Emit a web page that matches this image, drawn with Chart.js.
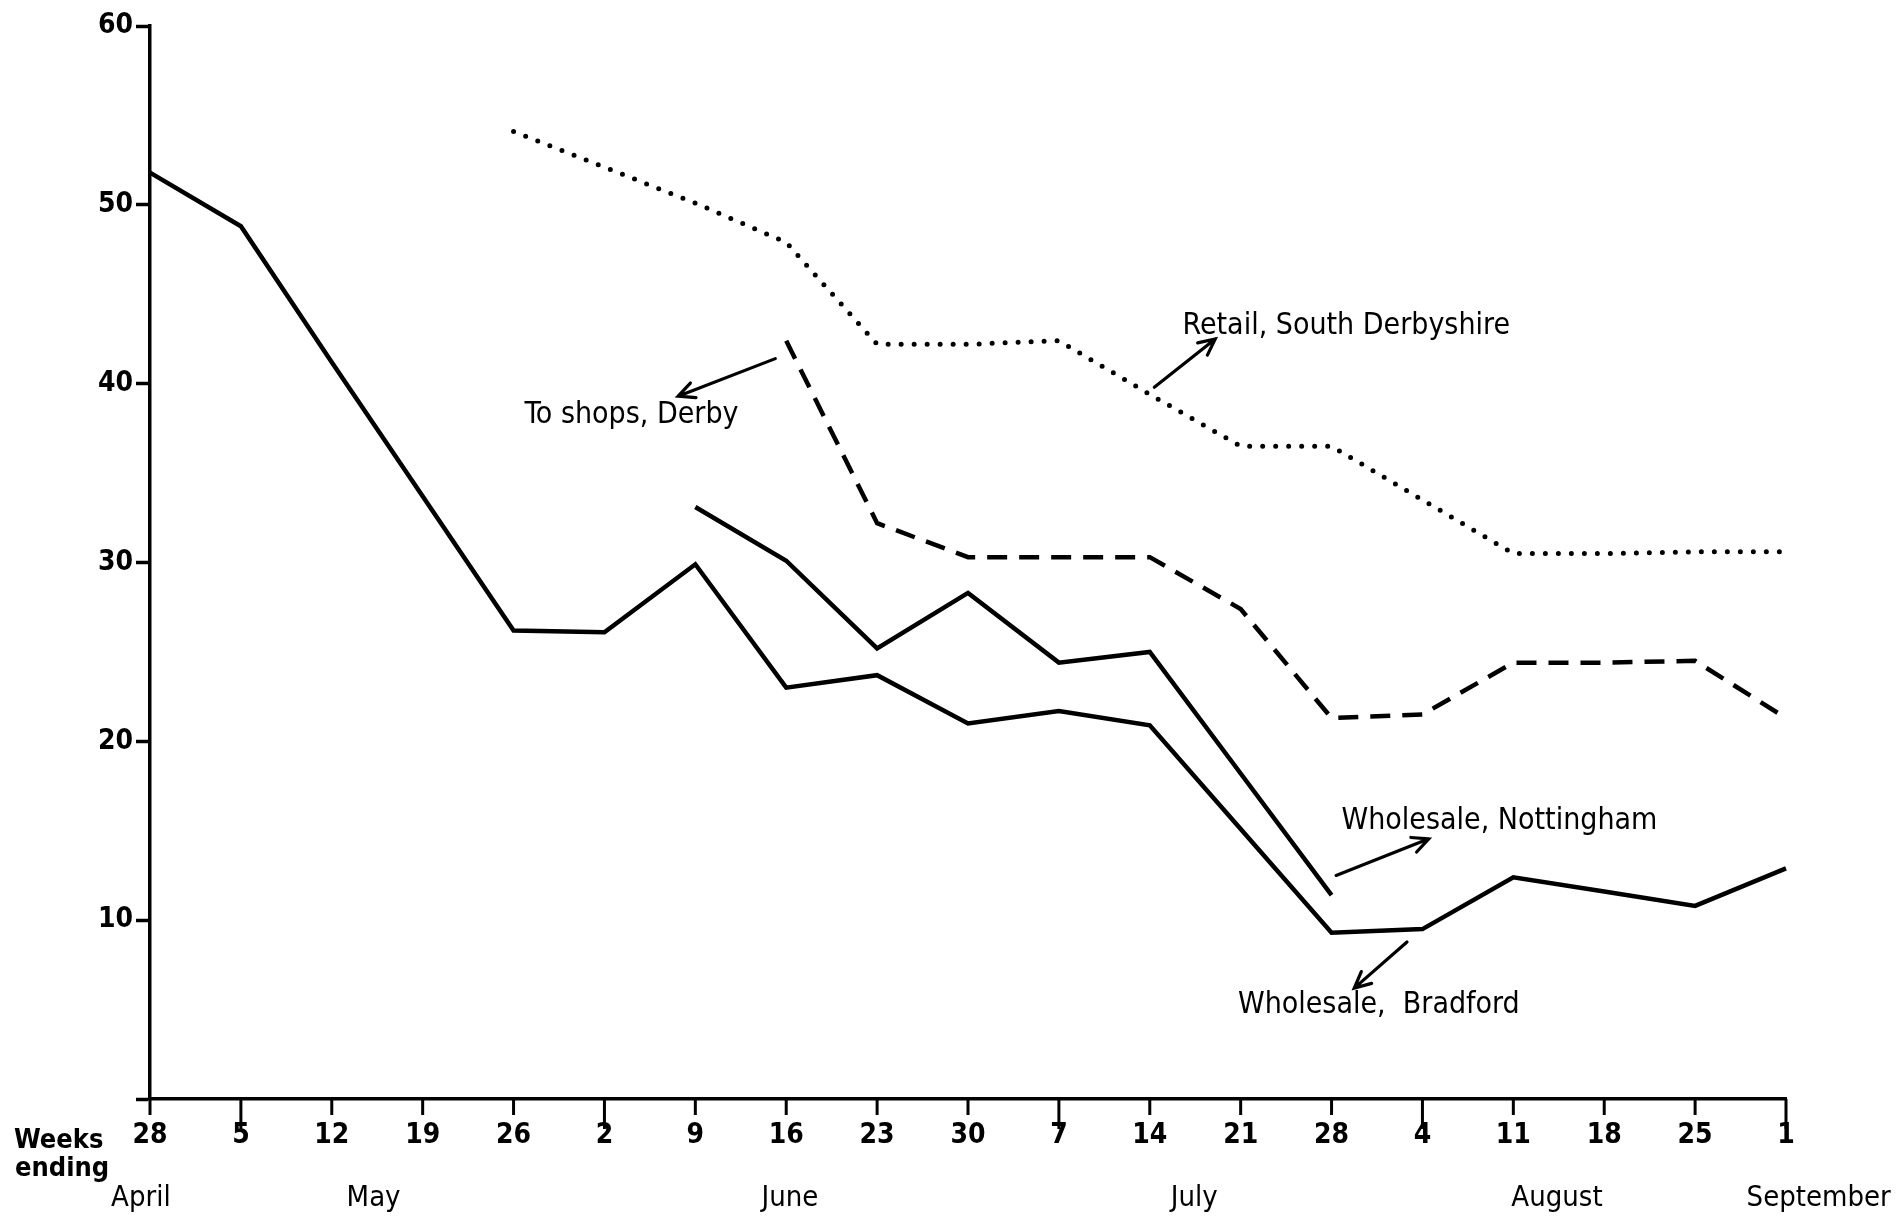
<!DOCTYPE html>
<html>
<head>
<meta charset="utf-8">
<script src="https://cdn.jsdelivr.net/npm/chart.js@4.4.1/dist/chart.umd.min.js"></script>
<style>
  html, body { margin: 0; padding: 0; background: #ffffff; overflow: hidden; }
  #wrap { width: 1899px; height: 1217px; position: relative; }
</style>
</head>
<body>
<div id="wrap"><canvas id="c"></canvas></div>
<script>
// ---- data ----
const weekLabels = ['28','5','12','19','26','2','9','16','23','30','7','14','21','28','4','11','18','25','1'];
const wholesaleBradford = [51.8, 48.8, 41.2, 33.7, 26.2, 26.1, 29.9, 23.0, 23.7, 21.0, 21.7, 20.9, 15.1, 9.3, 9.5, 12.4, 11.6, 10.8, 12.9];
const wholesaleNottingham = [null, null, null, null, null, null, 33.1, 30.1, 25.2, 28.3, 24.4, 25.0, 18.2, 11.4, null, null, null, null, null];
const toShopsDerby = [null, null, null, null, null, null, null, 42.4, 32.2, 30.3, 30.3, 30.3, 27.4, 21.3, 21.5, 24.4, 24.4, 24.5, 21.3];
const retailSouthDerbyshire = [null, null, null, null, 54.1, 52.1, 50.1, 47.9, 42.2, 42.2, 42.4, 39.4, 36.5, 36.5, 33.5, 30.5, 30.5, 30.6, 30.6];
const yMin = 0, yMax = 60, yStep = 10;
const monthNames = ['April', 'May', 'June', 'July', 'August', 'September'];
const monthCentres = [-0.1, 2.46, 7.04, 11.49, 15.48, 18.36];   // in week-index units
const monthStartWeeks = [1, 5, 10, 14, 18];                     // weeks whose tick is drawn longer
const seriesNotes = [
  { text: 'Retail, South Derbyshire', at: [11.36, 43.2], from: [11.05, 39.8], to: [11.72, 42.5] },
  { text: 'To shops, Derby',          at: [4.12, 38.25], from: [6.88, 41.4], to: [5.81, 39.3] },
  { text: 'Wholesale, Nottingham',    at: [13.11, 15.55], from: [13.05, 12.5], to: [14.07, 14.55] },
  { text: 'Wholesale,  Bradford',     at: [11.97, 5.26], from: [13.83, 8.78], to: [13.25, 6.2] }
];

const INK = '#000000';
const FAMILY = '"DejaVu Sans Condensed", "Liberation Sans", sans-serif';

function arrow(ctx, x1, y1, x2, y2) {
  const ang = Math.atan2(y2 - y1, x2 - x1);
  const L = 18, spread = 0.45;
  ctx.beginPath();
  ctx.moveTo(x1, y1); ctx.lineTo(x2, y2);
  ctx.moveTo(x2 - L * Math.cos(ang - spread), y2 - L * Math.sin(ang - spread));
  ctx.lineTo(x2, y2);
  ctx.lineTo(x2 - L * Math.cos(ang + spread), y2 - L * Math.sin(ang + spread));
  ctx.stroke();
}

const decorations = {
  id: 'decorations',
  afterDraw(chart) {
    const ctx = chart.ctx;
    const xs = chart.scales.x, ys = chart.scales.y;
    const area = chart.chartArea;
    ctx.save();
    ctx.strokeStyle = INK; ctx.fillStyle = INK;
    // x ticks
    ctx.lineWidth = 3;
    ctx.lineCap = 'butt';
    weekLabels.forEach((_, i) => {
      const x = xs.getPixelForTick(i);
      const len = monthStartWeeks.includes(i) ? 30 : 16;
      ctx.beginPath();
      ctx.moveTo(x, area.bottom);
      ctx.lineTo(x, area.bottom + len);
      ctx.stroke();
    });
    // "Weeks ending"
    ctx.font = 'bold 27px ' + FAMILY;
    ctx.textAlign = 'left'; ctx.textBaseline = 'middle';
    ctx.fillText('Weeks', 14, area.bottom + 42);
    ctx.fillText('ending', 15, area.bottom + 70);
    // month labels
    ctx.font = '29px ' + FAMILY;
    ctx.textAlign = 'center';
    monthNames.forEach((m, i) => {
      ctx.fillText(m, xs.getPixelForValue(monthCentres[i]), area.bottom + 99);
    });
    // series notes with arrows
    ctx.font = '30px ' + FAMILY;
    ctx.textAlign = 'left';
    ctx.lineWidth = 3.2;
    ctx.lineCap = 'round';
    seriesNotes.forEach(n => {
      ctx.fillText(n.text, xs.getPixelForValue(n.at[0]), ys.getPixelForValue(n.at[1]));
      arrow(ctx,
        xs.getPixelForValue(n.from[0]), ys.getPixelForValue(n.from[1]),
        xs.getPixelForValue(n.to[0]), ys.getPixelForValue(n.to[1]));
    });
    ctx.restore();
  }
};

const solid = { borderColor: INK, borderWidth: 4.5, pointRadius: 0, tension: 0, fill: false, borderJoinStyle: 'miter' };

new Chart(document.getElementById('c'), {
  type: 'line',
  data: {
    labels: weekLabels,
    datasets: [
      Object.assign({ label: 'Wholesale, Bradford', data: wholesaleBradford }, solid),
      Object.assign({ label: 'Wholesale, Nottingham', data: wholesaleNottingham }, solid),
      Object.assign({ label: 'To shops, Derby', data: toShopsDerby }, solid, { borderDash: [20, 12] }),
      Object.assign({ label: 'Retail, South Derbyshire', data: retailSouthDerbyshire }, solid,
        { borderDash: [0, 13], borderCapStyle: 'round', borderWidth: 5 })
    ]
  },
  options: {
    responsive: true,
    maintainAspectRatio: false,
    animation: false,
    events: [],
    layout: { padding: { left: 0, top: 26, right: 113, bottom: 0 } },
    plugins: { legend: { display: false }, tooltip: { enabled: false }, title: { display: false } },
    scales: {
      x: {
        type: 'category',
        offset: false,
        grid: { display: true, drawOnChartArea: false, drawTicks: false },
        border: { display: true, color: INK, width: 3.5 },
        ticks: {
          color: INK, padding: 20, maxRotation: 0, autoSkip: false,
          font: { family: FAMILY, size: 28, weight: 'bold' }
        },
        afterFit(scale) { scale.height = 118; }
      },
      y: {
        min: yMin, max: yMax,
        grid: { display: true, drawOnChartArea: false, drawTicks: true, tickLength: 14, tickWidth: 3.5, tickColor: INK },
        border: { display: true, color: INK, width: 3.5 },
        ticks: {
          stepSize: yStep, color: INK, padding: 3,
          font: { family: FAMILY, size: 28, weight: 'bold' },
          callback: v => (v === 0 ? '' : String(v))
        },
        afterFit(scale) { scale.width = 150; }
      }
    }
  },
  plugins: [decorations]
});
</script>
</body>
</html>
